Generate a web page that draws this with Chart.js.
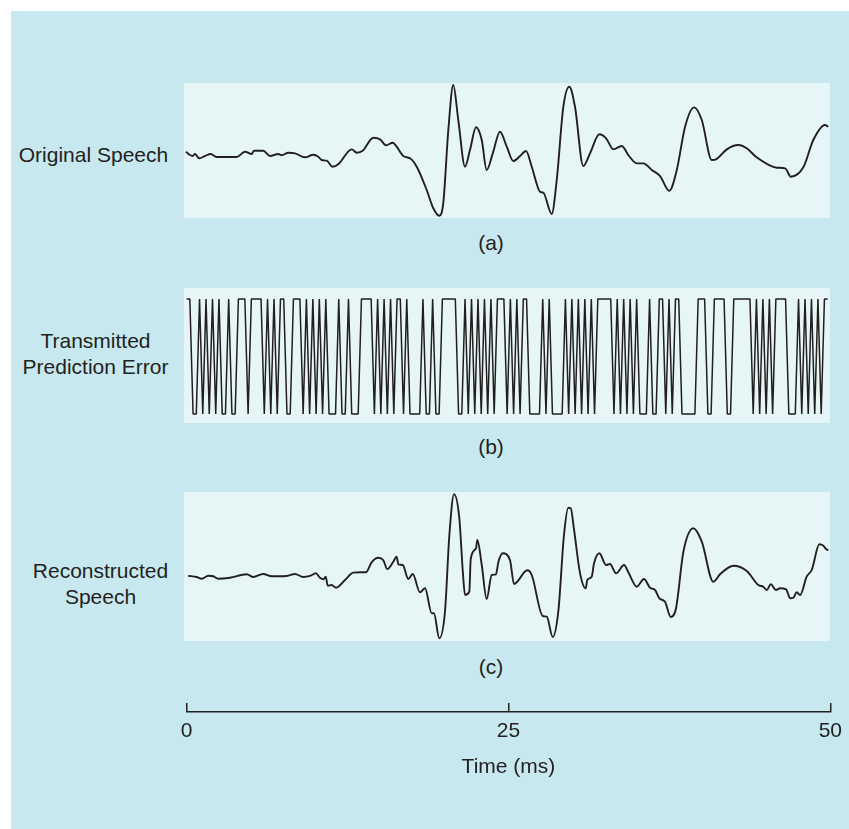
<!DOCTYPE html>
<html>
<head>
<meta charset="utf-8">
<script src="https://cdn.jsdelivr.net/npm/chart.js@4.4.1/dist/chart.umd.min.js"></script>
<style>
  html, body { margin:0; padding:0; background:#ffffff; width:849px; height:829px; overflow:hidden; }
  #bg { position:absolute; left:11px; top:11px; width:838px; height:818px; background:#c8e8ef; }
  canvas { position:absolute; display:block; }
  .panel { background:#e6f5f5; }
  .lbl { position:absolute; font-family:"Liberation Sans", Arial, Helvetica, sans-serif; font-size:21px; color:#231f20; text-align:center; line-height:26px; white-space:nowrap; }
</style>
</head>
<body>
<div id="bg"></div>

<div class="lbl" style="left:3px; width:181px; top:142px;">Original Speech</div>
<div class="lbl" style="left:5px; width:181px; top:328px;">Transmitted<br>Prediction Error</div>
<div class="lbl" style="left:10px; width:181px; top:558px;">Reconstructed<br>Speech</div>

<div class="lbl" style="left:441px; width:100px; top:230px;">(a)</div>
<div class="lbl" style="left:441px; width:100px; top:434px;">(b)</div>
<div class="lbl" style="left:441px; width:100px; top:654px;">(c)</div>

<canvas id="ca" class="panel" width="646" height="135" style="left:184px; top:83px; width:646px; height:135px;"></canvas>
<canvas id="cb" class="panel" width="646" height="135" style="left:184px; top:288px; width:646px; height:135px;"></canvas>
<canvas id="cc" class="panel" width="646" height="149" style="left:184px; top:492px; width:646px; height:149px;"></canvas>
<canvas id="cx" width="699" height="100" style="left:150px; top:690px; width:699px; height:100px;"></canvas>

<script>
// ---------------- DATA ----------------
// (a) Original speech: time (ms) and amplitude
const origTime = [-0.05,0.26,0.47,0.65,0.98,1.42,1.86,2.32,3.87,4.51,5.03,5.20,5.92,6.44,7.08,7.34,7.85,8.37,9.14,9.78,10.17,10.43,10.82,11.28,11.71,12.75,13.14,13.60,14.42,14.93,15.40,15.92,16.22,16.73,17.25,17.77,18.54,19.05,19.51,19.82,20.21,20.59,20.98,21.50,21.88,22.35,22.79,23.17,23.64,24.20,24.72,25.23,25.75,26.21,26.65,27.29,27.55,28.19,28.58,29.09,29.55,29.99,30.63,31.15,31.87,32.39,32.95,33.60,34.11,34.76,35.27,35.92,36.56,37.27,37.85,38.49,39.18,39.78,40.55,40.88,41.71,42.60,43.25,44.02,45.57,46.22,46.65,47.62,48.39,49.29,49.55];
const origAmp  = [0.047,0,-0.014,0.014,-0.047,-0.014,0.014,-0.029,-0.029,0.047,0.014,0.061,0.061,-0.014,0.014,-0.004,0.033,0.024,-0.033,0.004,-0.024,-0.071,-0.081,-0.167,-0.133,0.081,0.033,0.061,0.247,0.224,0.139,0.176,0.119,-0.014,-0.047,-0.167,-0.5,-0.761,-0.867,-0.686,0.357,1.0,0.5,-0.167,0.071,0.396,0.214,-0.214,0.024,0.333,0.119,-0.086,-0.014,0.057,-0.167,-0.524,-0.539,-0.843,-0.357,0.69,0.976,0.69,-0.157,0.024,0.296,0.239,0.081,0.129,0,-0.119,-0.119,-0.214,-0.3,-0.51,-0.214,0.404,0.681,0.5,-0.071,-0.061,0.081,0.143,0.096,-0.033,-0.181,-0.19,-0.31,-0.176,0.214,0.429,0.404];

// (b) Transmitted prediction error: one sign per 0.25 ms sample
const errStep = 0.25;
const errSign = [
  1, 1,-1,-1, 1,-1, 1,-1, 1,-1,
  1,-1,-1, 1,-1,-1, 1, 1, 1,-1,
  1, 1, 1, 1,-1, 1,-1, 1,-1, 1,
  1,-1,-1, 1, 1, 1,-1, 1,-1, 1,
 -1, 1,-1, 1,-1,-1,-1, 1,-1,-1,
  1,-1,-1,-1, 1, 1, 1, 1,-1, 1,
 -1, 1,-1, 1,-1, 1, 1,-1, 1,-1,
 -1,-1,-1, 1,-1,-1, 1,-1,-1, 1,
  1, 1, 1, 1,-1,-1, 1,-1, 1,-1,
  1,-1, 1,-1, 1,-1, 1, 1, 1,-1,
  1,-1, 1,-1, 1, 1,-1,-1,-1,-1,
  1,-1, 1,-1,-1,-1,-1, 1,-1, 1,
 -1, 1,-1, 1,-1, 1,-1, 1, 1, 1,
  1, 1,-1, 1,-1, 1,-1, 1,-1, 1,
 -1,-1,-1, 1,-1,-1, 1, 1,-1, 1,
 -1, 1, 1,-1,-1,-1,-1,-1, 1, 1,
  1,-1,-1, 1, 1, 1, 1,-1,-1, 1,
  1, 1, 1, 1, 1,-1, 1,-1, 1,-1,
  1,-1, 1, 1, 1, 1,-1,-1,-1, 1,
 -1, 1,-1, 1,-1, 1,-1, 1, 1
];

// (c) Reconstructed speech: time (ms) and amplitude
const recTime = [0.13,0.78,1.17,1.68,2.06,2.45,3.35,4.64,5.15,5.92,6.57,7.73,8.37,9.01,9.53,9.99,10.30,10.56,10.74,10.90,11.20,11.54,12.23,12.87,13.39,13.85,14.29,14.80,15.19,15.50,15.96,16.22,16.35,16.69,17.12,17.46,18.02,18.41,18.93,19.10,19.51,19.95,20.29,20.65,21.06,21.32,21.50,21.83,21.94,22.35,22.45,22.79,23.17,23.56,23.89,24.07,24.41,24.97,25.28,26.31,26.65,27.50,27.81,28.27,28.70,29.14,29.47,29.66,29.92,30.38,30.82,30.94,31.28,31.46,31.87,32.39,32.69,33.16,33.78,34.11,34.76,35.32,35.78,36.17,36.50,36.94,37.38,37.79,38.36,39.13,39.78,40.67,41.19,42.22,43.25,44.15,44.53,44.80,45.11,45.51,45.82,46.29,46.60,46.85,47.11,47.37,47.88,48.27,48.86,49.17,49.37,49.55];
const recAmp  = [0.016,0,-0.021,0.016,0.009,-0.021,-0.009,0.034,0,0.038,0.009,0.013,0.038,0,0.013,0.046,-0.009,-0.029,0.004,-0.109,-0.1,-0.134,-0.038,0.054,0.059,0.059,0.184,0.241,0.209,0.1,0.191,0.254,0.159,0.15,-0.025,0.038,-0.191,-0.141,-0.454,-0.454,-0.766,-0.434,0.525,1.034,0.734,0.088,-0.225,-0.184,0.225,0.359,0.463,0.15,-0.275,0.025,0.034,0.184,0.296,0.2125,-0.0875,0.084,0.025,-0.4875,-0.496,-0.75,-0.434,0.525,0.866,0.859,0.5875,0.046,-0.141,-0.0375,0.004,0.171,0.296,0.15,0.1625,0.046,0.15,0.059,-0.121,-0.025,-0.134,-0.1625,-0.266,-0.309,-0.5,-0.391,0.316,0.609,0.441,-0.059,0.034,0.141,0.075,-0.1,-0.121,-0.1625,-0.091,-0.1625,-0.141,-0.154,-0.266,-0.259,-0.191,-0.225,0.004,0.0875,0.409,0.391,0.35,0.334];

// Time axis
const axisTicks = [0, 25, 50];
const axisTitle = 'Time (ms)';

// ---------------- CHARTS ----------------
const INK = '#231f20';
const FONT = '"Liberation Sans", Arial, Helvetica, sans-serif';
const tMin = -0.2, tMax = 49.68;

function pts(xs, ys) { return xs.map((x, i) => ({ x: x, y: ys[i] })); }

function panel(id, data, yMin, yMax, opts) {
  return new Chart(document.getElementById(id), {
    type: 'line',
    data: { datasets: [Object.assign({
      data: data, borderColor: INK, borderWidth: 1.9, pointRadius: 0,
      fill: false, cubicInterpolationMode: 'monotone'
    }, opts || {})] },
    options: {
      responsive: false, animation: false, events: [],
      layout: { padding: 0 },
      plugins: { legend: { display: false }, tooltip: { enabled: false } },
      scales: {
        x: { type: 'linear', min: tMin, max: tMax, display: false },
        y: { type: 'linear', min: yMin, max: yMax, display: false }
      }
    }
  });
}

panel('ca', pts(origTime, origAmp), -0.9, 1.029);
panel('cb', pts(errSign.map((v, i) => i * errStep), errSign), -1.157, 1.19,
      { tension: 0, cubicInterpolationMode: 'default', borderWidth: 1.5, borderJoinStyle: 'bevel' });
panel('cc', pts(recTime, recAmp), -0.8, 1.0625);

new Chart(document.getElementById('cx'), {
  type: 'line',
  data: { datasets: [] },
  options: {
    responsive: false, animation: false, events: [],
    layout: { padding: { top: 13, left: 36.6, right: 18, bottom: 0 } },
    plugins: { legend: { display: false }, tooltip: { enabled: false } },
    scales: {
      x: {
        type: 'linear', position: 'bottom', min: axisTicks[0], max: axisTicks[axisTicks.length - 1],
        afterBuildTicks: (s) => { s.ticks = axisTicks.map(v => ({ value: v })); },
        afterFit: (s) => { s.height = 78; },
        grid: { drawOnChartArea: true, drawTicks: false, color: INK, lineWidth: 1.5 },
        border: { display: true, color: INK, width: 1.5 },
        ticks: { color: INK, font: { family: FONT, size: 21 }, padding: 7, maxRotation: 0, autoSkip: false,
                 callback: (v) => String(v) },
        title: { display: true, text: axisTitle, color: INK, font: { family: FONT, size: 21 },
                 padding: { top: 0, bottom: 10 } }
      },
      y: { display: false, min: 0, max: 1 }
    }
  }
});
</script>
</body>
</html>
